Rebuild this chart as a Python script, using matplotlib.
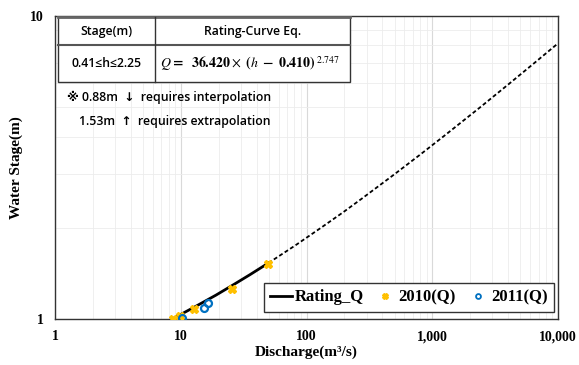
import numpy as np
import matplotlib.pyplot as plt
from matplotlib.lines import Line2D
from matplotlib.patches import Rectangle
from matplotlib.ticker import NullFormatter

# rating curve points (stage h, discharge Q)
rating_h = [1.00, 1.10, 1.20, 1.30, 1.40, 1.53]
rating_q = [8.55, 13.1, 19.1, 26.4, 35.4, 49.7]
extrap_h = [1.53, 1.75, 2.0, 2.25, 2.5, 3.0, 3.5, 4.0, 5.0, 6.0, 7.0, 8.0, 8.13]
extrap_q = [49.7, 81.4, 130, 195, 276, 497, 808, 1220, 2400, 4120, 6470, 9530, 10000]

# observed points
obs2010_q = [8.7, 9.8, 12.8, 25.7, 49.8]
obs2010_h = [1.00, 1.02, 1.076, 1.253, 1.52]
obs2011_q = [10.2, 15.3, 16.5]
obs2011_h = [1.005, 1.09, 1.13]

x_ticks = [1, 10, 100, 1000, 10000]
x_labels = ['1', '10', '100', '1,000', '10,000']
y_ticks = [1, 10]
y_labels = ['1', '10']

serif = {'family': 'Liberation Serif', 'weight': 'bold'}
sans = ['Open Sans', 'DejaVu Sans', 'Noto Sans CJK KR']
plt.rcParams['mathtext.fontset'] = 'stix'

fig = plt.figure(figsize=(5.79, 3.65), dpi=100)
ax = fig.add_axes([0.095, 0.126, 0.869, 0.830])

ax.plot(rating_q, rating_h, color='black', lw=2, zorder=3)
ax.plot(extrap_q, extrap_h, color='black', lw=1.3, ls=(0, (2.2, 1.4)), zorder=3)
ax.plot(obs2010_q, obs2010_h, ls='none', marker='X', ms=6, color='#FFC000',
        mec='#FFC000', zorder=4)
ax.plot(obs2011_q, obs2011_h, ls='none', marker='o', ms=5, mfc='none',
        mec='#0070C0', mew=1.6, zorder=5)

ax.set_xscale('log')
ax.set_yscale('log')
ax.set_xlim(1, 10000)
ax.set_ylim(1, 10)
ax.set_xticks(x_ticks)
ax.set_xticklabels(x_labels, fontdict=serif, fontsize=10)
ax.set_yticks(y_ticks)
ax.set_yticklabels(y_labels, fontdict=serif, fontsize=10)
ax.xaxis.set_minor_formatter(NullFormatter())
ax.yaxis.set_minor_formatter(NullFormatter())
ax.tick_params(which='both', length=0, pad=8)
ax.grid(True, which='major', color='#d9d9d9', lw=0.8)
ax.grid(True, which='minor', color='#ececec', lw=0.6)
ax.set_axisbelow(True)
for s in ax.spines.values():
    s.set_linewidth(1.0)
    s.set_color('#333333')

ax.set_xlabel('Discharge(m³/s)', fontdict=serif, fontsize=11, labelpad=2)
ax.set_ylabel('Water Stage(m)', fontdict=serif, fontsize=11, labelpad=5)

# table box
tx0, tx1, tsplit = 0.006, 0.586, 0.199
ty0, ty1, tmid = 0.782, 0.997, 0.904
ax.add_patch(Rectangle((tx0, ty0), tx1 - tx0, ty1 - ty0, transform=ax.transAxes,
                       facecolor='white', edgecolor='#333333', lw=1.0, zorder=6))
ax.plot([tx0, tx1], [ty1, ty1], transform=ax.transAxes, color='#666666', lw=2, zorder=7)
ax.plot([tx0, tx1], [tmid, tmid], transform=ax.transAxes, color='#555555', lw=1.5, zorder=7)
ax.plot([tsplit, tsplit], [ty0, ty1], transform=ax.transAxes, color='#333333', lw=1.0, zorder=7)

ax.text((tx0 + tsplit) / 2, (tmid + ty1) / 2, 'Stage(m)', transform=ax.transAxes,
        ha='center', va='center', family=sans, fontsize=8.8, weight='semibold', zorder=8)
ax.text((tsplit + tx1) / 2, (tmid + ty1) / 2, 'Rating-Curve Eq.', transform=ax.transAxes,
        ha='center', va='center', family=sans, fontsize=8.8, weight='semibold', zorder=8)
ax.text((tx0 + tsplit) / 2, (ty0 + tmid) / 2, '0.41≤h≤2.25', transform=ax.transAxes,
        ha='center', va='center', family=sans, fontsize=8.8, weight='semibold', zorder=8)
ax.text(tsplit + 0.010, (ty0 + tmid) / 2,
        r'$\mathbf{\mathit{Q}}\mathbf{=\ \ 36.420}\times\mathbf{\ (}\mathbf{\mathit{h}}\mathbf{\ -\ 0.410)}^{\ 2.747}$',
        transform=ax.transAxes, ha='left', va='center', fontsize=10, zorder=8)

ax.text(0.024, 0.733, '※ 0.88m  ↓  requires interpolation', transform=ax.transAxes,
        ha='left', va='center', family=sans, fontsize=8.8, weight='semibold', zorder=8)
ax.text(0.048, 0.653, '1.53m  ↑  requires extrapolation', transform=ax.transAxes,
        ha='left', va='center', family=sans, fontsize=8.8, weight='semibold', zorder=8)

handles = [
    Line2D([], [], color='black', lw=2),
    Line2D([], [], ls='none', marker='X', ms=4, color='#FFC000'),
    Line2D([], [], ls='none', marker='o', ms=3.5, mfc='none', mec='#0070C0', mew=1.3),
]
leg = ax.legend(handles, ['Rating_Q', '2010(Q)', '2011(Q)'], loc='lower right',
                ncol=3, bbox_to_anchor=(0.999, 0.012), prop={'family': 'Liberation Serif',
                'weight': 'bold', 'size': 12}, frameon=True, fancybox=False,
                handlelength=1.3, handletextpad=0.15, columnspacing=0.65,
                borderpad=0.4, borderaxespad=0.2, edgecolor='#333333', framealpha=1)
leg.get_frame().set_linewidth(1.0)
leg.set_zorder(9)

fig.savefig('out.png', dpi=100)
